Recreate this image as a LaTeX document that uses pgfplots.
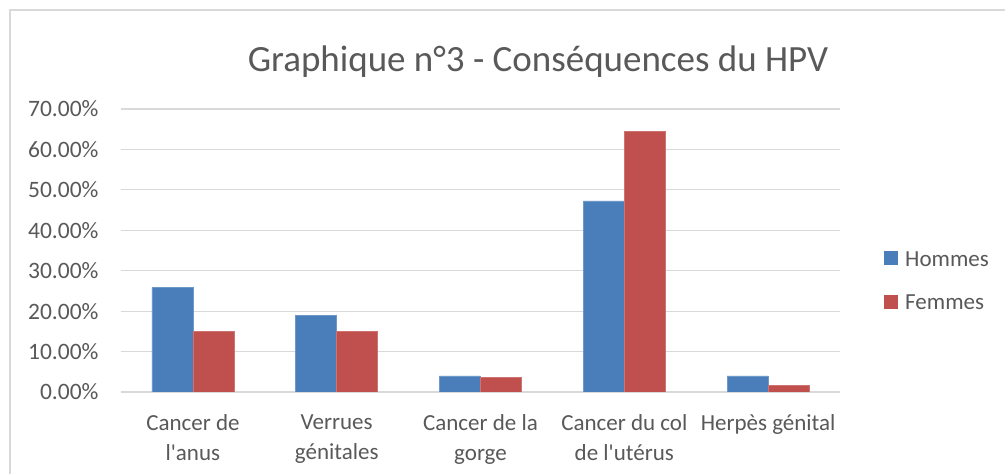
\documentclass[border=0pt]{standalone}
\usepackage{pgfplots}
\pgfplotsset{compat=1.18}
\usepackage{fontspec}
\setmainfont{Carlito}[Ligatures=TeXOff]
\definecolor{hom}{HTML}{4A7EBB}
\definecolor{fem}{HTML}{C0504D}
\definecolor{gridc}{HTML}{D9D9D9}
\definecolor{txt}{HTML}{595959}
\begin{document}
\begin{tikzpicture}[x=1pt,y=1pt]
\useasboundingbox (0,0) rectangle (1005,474);
\fill[white] (0,0) rectangle (1005,474);
\draw[gridc,line width=1.2pt] (10,-5) -- (10,464) -- (1010,464);
\node[text=txt,font=\fontsize{37}{44}\selectfont] at (538,412) {Graphique n°3 - Conséquences du HPV};
\begin{axis}[
  at={(121pt,82pt)}, anchor=south west,
  scale only axis, width=719pt, height=283pt,
  xmin=-0.5, xmax=4.5, ymin=0, ymax=70,
  ytick={0,10,...,70},
  xtick={0,1,2,3,4},
  xticklabels={{Cancer de\\l'anus},{Verrues\\génitales},{Cancer de la\\gorge},{Cancer du col\\de l'utérus},{Herpès génital}},
  xticklabel style={align=center, font=\fontsize{23}{30}\selectfont, text=txt, anchor=north, yshift=-19pt},
  yticklabel={\pgfmathprintnumber[fixed,fixed zerofill,precision=2,assume math mode=true]{\tick}\%},
  yticklabel style={font=\fontsize{23.5}{28}\selectfont, text=txt, anchor=east, xshift=-19pt},
  major tick length=0pt,
  axis line style={draw=none},
  ymajorgrids, grid style={gridc, line width=1.2pt},
  ybar, bar width=41pt,
  legend style={at={(1.057,0.392)}, anchor=west, draw=none, fill=none,
    font=\fontsize{23}{28}\selectfont, text=txt, row sep=23pt,
    legend cell align=left},
  legend image code/.code={\path[draw=none,fill=none] (0pt,0pt) -- (19pt,0pt);\fill[#1,draw=none] (0pt,-6pt) rectangle (14pt,8pt);},
]
\addplot[fill=hom, draw=hom!80!white, bar shift=-20.5pt] coordinates {(0,25.8) (1,19.0) (2,4.0) (3,47.3) (4,4.0)};
\addplot[fill=fem, draw=fem!80!white, bar shift=20.5pt] coordinates {(0,15.0) (1,15.0) (2,3.7) (3,64.5) (4,1.7)};
\legend{Hommes,Femmes}
\end{axis}
\end{tikzpicture}
\end{document}
